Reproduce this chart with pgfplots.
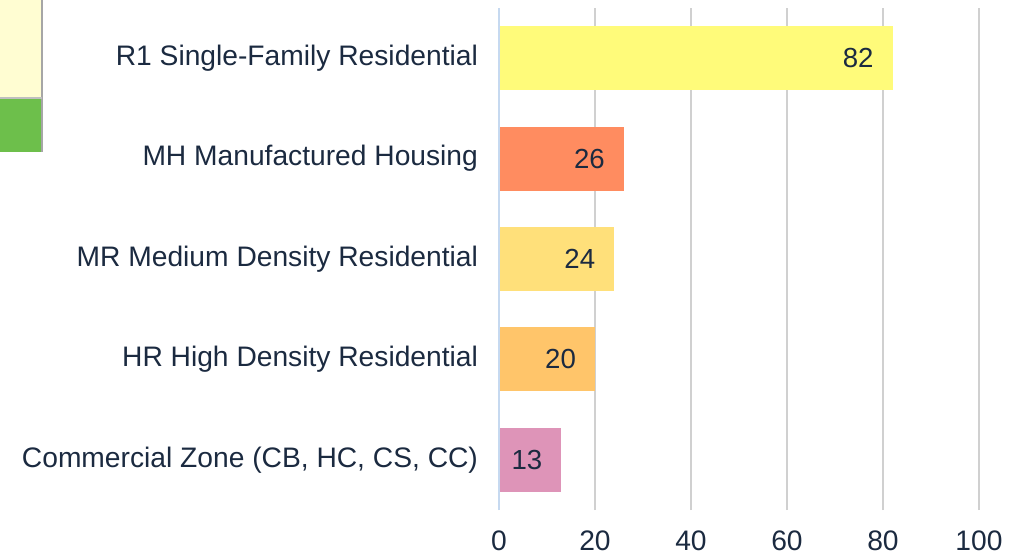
\documentclass[border=0pt]{standalone}
\usepackage{fontspec}
\setmainfont{Liberation Sans}
\usepackage{pgfplots}
\pgfplotsset{compat=1.18}
\definecolor{txt}{HTML}{1B2A40}
\definecolor{gridc}{HTML}{D0D0D0}
\definecolor{axb}{HTML}{C6D9F0}
\definecolor{cR}{HTML}{FFFB7A}
\definecolor{cMH}{HTML}{FF8C60}
\definecolor{cMR}{HTML}{FFE07A}
\definecolor{cHR}{HTML}{FFC56A}
\definecolor{cC}{HTML}{DE94B8}
\definecolor{boxy}{HTML}{FFFDD2}
\definecolor{boxg}{HTML}{6DBF4B}
\begin{document}
\begin{tikzpicture}[x=1pt,y=1pt]
\useasboundingbox (0,0) rectangle (514,279.5);
\fill[boxy] (0,279.5) rectangle (21,230.5);
\fill[boxg] (0,230.5) rectangle (21,203.5);
\draw[gray!70,line width=1pt] (21,279.5) -- (21,203.5);
\draw[gray!50,line width=0.8pt] (0,230.5) -- (21,230.5);
\begin{axis}[
  at={(249.5pt,24.5pt)}, anchor=south west,
  scale only axis, width=240pt, height=251pt,
  xmin=0, xmax=100, ymin=-0.5, ymax=4.5,
  xbar, bar width=32pt,
  xtick={0,20,40,60,80,100},
  ytick={0,1,2,3,4},
  yticklabels={{Commercial Zone (CB, HC, CS, CC)},{HR High Density Residential},{MR Medium Density Residential},{MH Manufactured Housing},{R1 Single-Family Residential}},
  axis line style={draw=none},
  major tick length=0pt,
  xmajorgrids, grid style={gridc, line width=0.8pt},
  /pgf/number format/assume math mode=true,
  tick label style={font=\fontsize{14.1}{17}\selectfont, text=txt},
  xticklabel style={yshift=-9pt, inner sep=1pt},
  yticklabel style={xshift=-7pt},
  nodes near coords,
  every node near coord/.append style={anchor=east, xshift=-6pt, font=\fontsize{13.8}{16}\selectfont, text=txt},
  clip=false,
]
\addplot[fill=cC, draw=none, bar shift=0pt] coordinates {(13,0)};
\addplot[fill=cHR, draw=none, bar shift=0pt] coordinates {(20,1)};
\addplot[fill=cMR, draw=none, bar shift=0pt] coordinates {(24,2)};
\addplot[fill=cMH, draw=none, bar shift=0pt] coordinates {(26,3)};
\addplot[fill=cR, draw=none, bar shift=0pt] coordinates {(82,4)};
\draw[axb, line width=1pt] (axis cs:0,-0.5) -- (axis cs:0,4.5);
\end{axis}
\end{tikzpicture}
\end{document}
